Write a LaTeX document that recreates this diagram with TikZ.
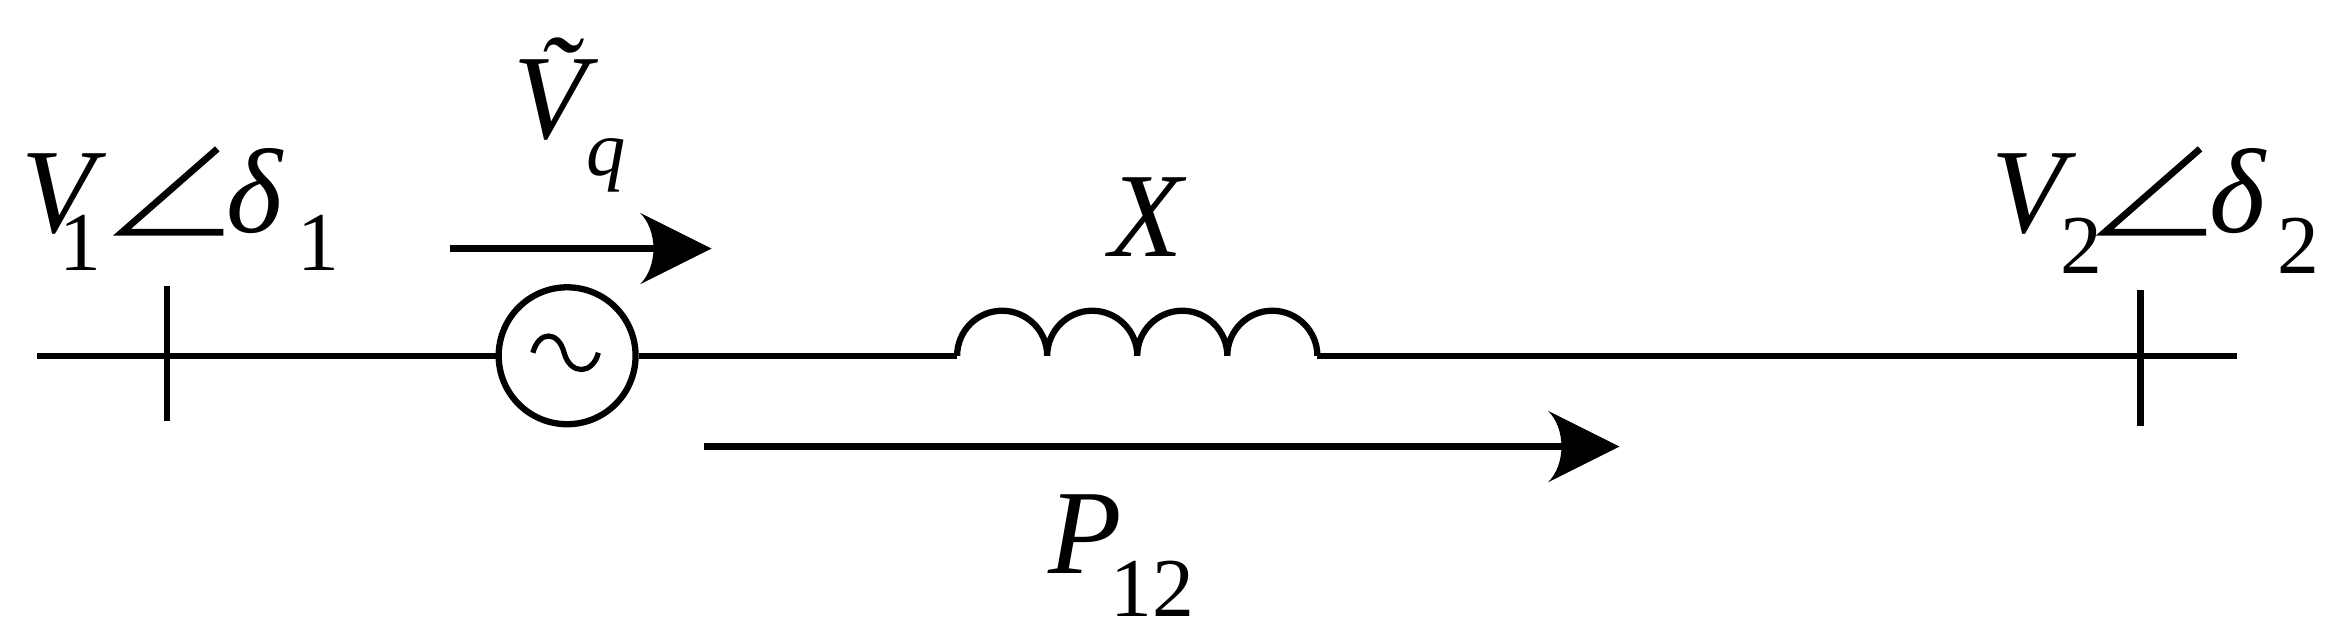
\documentclass[tikz,border=0pt]{standalone}
\usepackage{fontspec}
\setmainfont{Liberation Serif}
\begin{document}
\begin{tikzpicture}[x=0.02cm,y=-0.02cm,line width=2.4pt,
  lbl/.style={inner sep=0pt,font=\fontsize{46}{52}\selectfont\itshape},
  sub/.style={inner sep=0pt,font=\fontsize{32}{38}\selectfont}]
\useasboundingbox (0,0) rectangle (1568,429);
% main line
\coordinate (L0) at (25,239); \coordinate (R0) at (1503,239);
\node[circle,draw,minimum size=1.84cm,inner sep=0pt] (src) at (381,239) {};
\coordinate (i1) at (643,239); \coordinate (i2) at (885,239);
\draw (L0) -- (src.west);
\draw (src.east) -- (i1);
\draw (i1) arc (180:360:30.25) arc (180:360:30.25) arc (180:360:30.25) arc (180:360:30.25);
\draw (i2) -- (R0);
% tilde
\draw[line width=2pt] (358,237) .. controls (362,222) and (375,222) .. (379,237)
  .. controls (383,252) and (398,252) .. (402,237);
% buses
\coordinate (b1t) at (112,192); \coordinate (b1b) at (112,283);
\coordinate (b2t) at (1438,195); \coordinate (b2b) at (1438,286);
\draw (b1t) -- (b1b); \draw (b2t) -- (b2b);
% Vq arrow
\coordinate (a1) at (302,167); \coordinate (a1h) at (478,167);
\draw (a1) -- (440,167);
\fill (a1h) -- (430,143) .. controls (442,155) and (442,179) .. (430,191) -- cycle;
% P12 arrow
\coordinate (a2) at (473,300); \coordinate (a2h) at (1088,300);
\draw (a2) -- (1050,300);
\fill (a2h) -- (1040,276) .. controls (1052,288) and (1052,312) .. (1040,324) -- cycle;
% angle signs
\draw[line width=2.6pt] (146,100) -- (82,156) -- (150,156);
\draw[line width=2.6pt] (1478,100) -- (1414,156) -- (1482,156);
% labels
\node[lbl,anchor=base west] (v1) at (12,156) {V};
\node[sub,anchor=base west] (v1s) at (38,182) {1};
\node[lbl,anchor=base west] (d1) at (150,156) {δ};
\node[sub,anchor=base west] (d1s) at (198,182) {1};
\node[lbl,anchor=base west] (vq) at (343,93) {Ṽ};
\node[sub,anchor=base west,font=\fontsize{30}{36}\selectfont\itshape] (vqs) at (392,118) {q};
\node[lbl,anchor=base] (X) at (770,172) {X};
\node[lbl,anchor=base west] (v2) at (1336,156) {V};
\node[sub,anchor=base west] (v2s) at (1382,184) {2};
\node[lbl,anchor=base west] (d2) at (1482,156) {δ};
\node[sub,anchor=base west] (d2s) at (1528,184) {2};
\node[lbl,anchor=base west] (p) at (702,385) {P};
\node[sub,anchor=base west] (ps) at (744,414) {12};
\end{tikzpicture}
\end{document}
